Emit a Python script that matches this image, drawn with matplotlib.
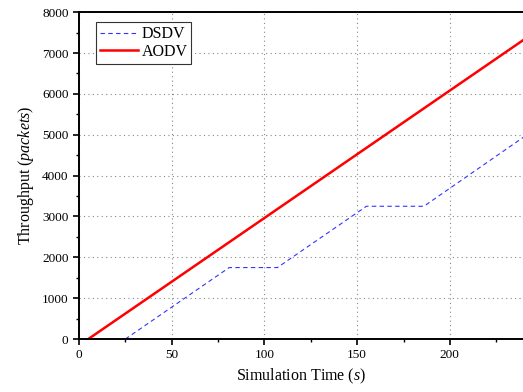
import numpy as np
import matplotlib
matplotlib.use("Agg")
from matplotlib import pyplot as plt
from matplotlib.ticker import MultipleLocator

# data (time in s, throughput in packets)
aodv_t = [5, 240]
aodv_y = [0, 7330]
dsdv_t = [25, 81, 107, 155, 186, 240]
dsdv_y = [0, 1750, 1750, 3250, 3250, 4950]

plt.rcParams['font.family'] = ['Liberation Serif', 'DejaVu Serif']
plt.rcParams['mathtext.fontset'] = 'custom'
plt.rcParams['mathtext.it'] = 'Liberation Serif:italic'
plt.rcParams['mathtext.rm'] = 'Liberation Serif'

fig = plt.figure(figsize=(5.23, 3.92), dpi=100)
ax = fig.add_axes([0.151, 0.135, 0.851, 0.834])

ax.plot(dsdv_t, dsdv_y, color='#3333ff', lw=0.8, ls=(0, (4, 3)), label='DSDV')
ax.plot(aodv_t, aodv_y, color='#ff0000', lw=1.8, label='AODV')

ax.set_xlim(0, 240)
ax.set_ylim(0, 8000)
ax.xaxis.set_major_locator(MultipleLocator(50))
ax.xaxis.set_minor_locator(MultipleLocator(25))
ax.yaxis.set_major_locator(MultipleLocator(1000))
ax.yaxis.set_minor_locator(MultipleLocator(500))
ax.tick_params(which='major', direction='out', length=4, width=1.2, labelsize=9.5)
ax.tick_params(which='minor', direction='out', length=2.5, width=1.0)
ax.tick_params(top=False, right=False)
ax.grid(True, which='major', ls=(0, (1, 3)), color='#888888', lw=0.8)
for s in ax.spines.values():
    s.set_linewidth(1.4)
ax.spines['right'].set_visible(False)

ax.set_xlabel('Simulation Time ($\\mathit{s}$)', fontsize=11.5)
ax.set_ylabel('Throughput ($\\mathit{packets}$)', fontsize=11.5)

leg = ax.legend(loc='upper left', fontsize=11.5, fancybox=False, framealpha=1,
                edgecolor='#333333', handlelength=2.4, borderpad=0.25,
                labelspacing=0.1, handletextpad=0.2, borderaxespad=0,
                bbox_to_anchor=(0.038, 0.969))
leg.get_frame().set_linewidth(0.8)

fig.savefig('out.png', dpi=100)
